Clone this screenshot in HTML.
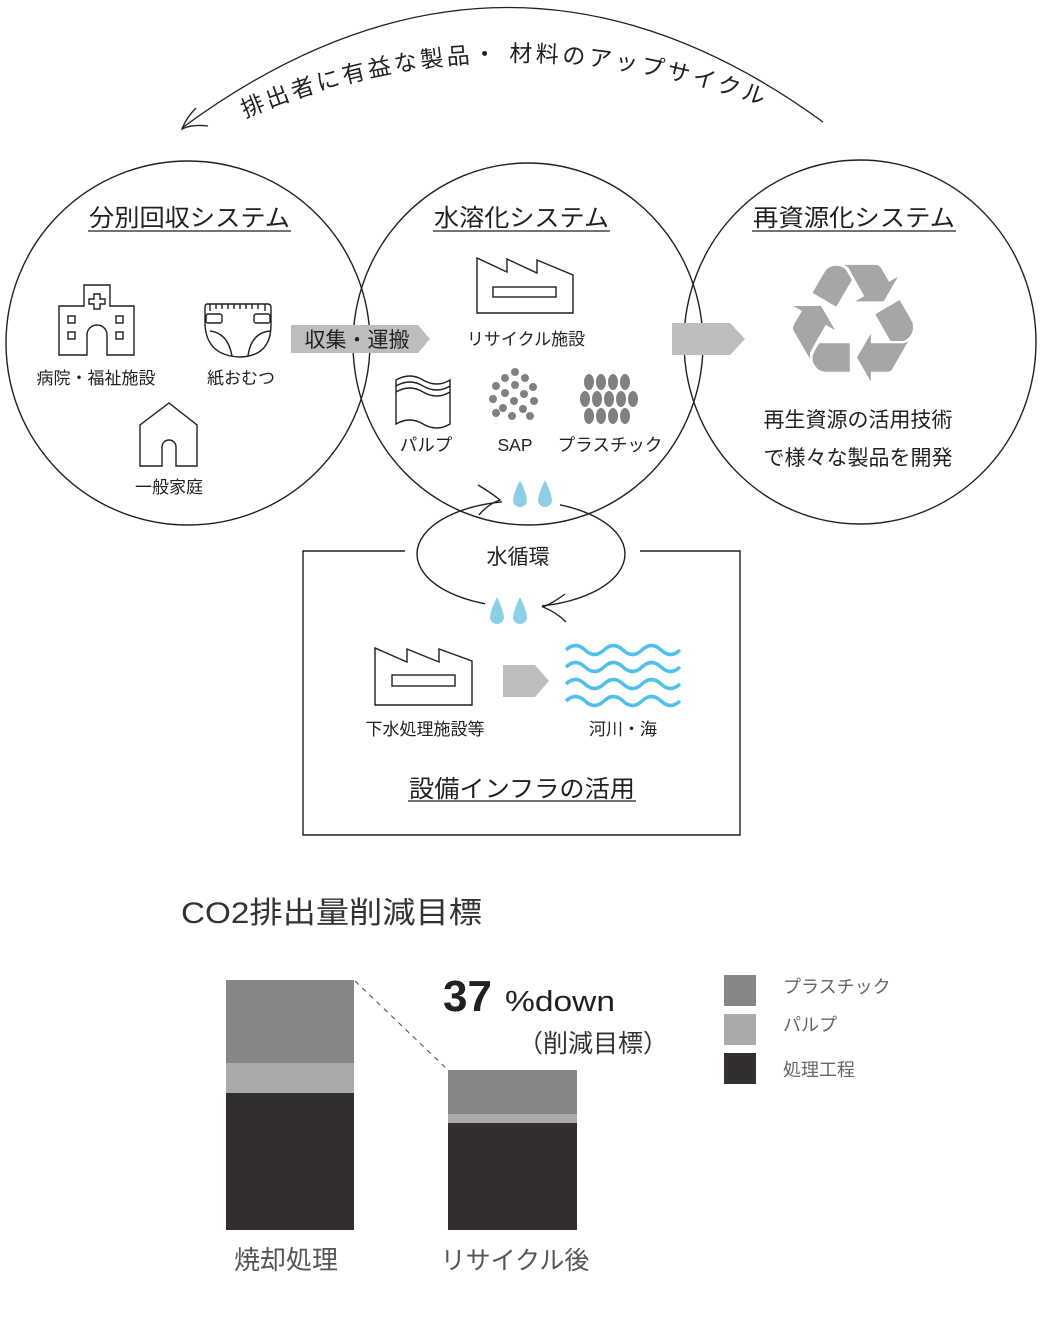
<!DOCTYPE html>
<html><head><meta charset="utf-8"><style>
html,body{margin:0;padding:0;background:#fff;}
svg{display:block;}
text{font-family:"Liberation Sans","Noto Sans CJK JP",sans-serif;fill:#231f1f;}
</style></head><body>
<svg width="1047" height="1318" viewBox="0 0 1047 1318" xmlns="http://www.w3.org/2000/svg">
<defs>
<path id="arcTxt" d="M245 118 Q 505 8 780 112"/>
</defs>
<!-- top arc -->
<path d="M823 122 Q 505 -110 182 128" fill="none" stroke="#231f1f" stroke-width="1.3"/>
<path d="M196 108 Q 186 118 182 129 Q 192 124 208 126" fill="none" stroke="#231f1f" stroke-width="1.3"/>
<text font-size="23"><textPath href="#arcTxt" textLength="530" lengthAdjust="spacing">排出者に有益な製品・ 材料のアップサイクル</textPath></text>

<!-- circles -->
<g fill="none" stroke="#231f1f" stroke-width="1.4">
<ellipse cx="188" cy="343" rx="182" ry="182"/>
<ellipse cx="528" cy="344" rx="175" ry="181"/>
<ellipse cx="860" cy="342" rx="176" ry="182"/>
</g>

<!-- titles -->
<g font-size="24">
<text x="89" y="226" textLength="201" lengthAdjust="spacingAndGlyphs">分別回収システム</text>
<text x="434" y="226" textLength="175" lengthAdjust="spacingAndGlyphs">水溶化システム</text>
<text x="753" y="226" textLength="202" lengthAdjust="spacingAndGlyphs">再資源化システム</text>
</g>
<g stroke="#231f1f" stroke-width="1.3">
<line x1="88" y1="231" x2="291" y2="231"/>
<line x1="433" y1="231" x2="610" y2="231"/>
<line x1="752" y1="231" x2="956" y2="231"/>
</g>

<!-- hospital -->
<g fill="none" stroke="#231f1f" stroke-width="1.4">
<path d="M59 355 V306 H84 V285 H110 V306 H134 V355 H107 V335 a10 10 0 0 0 -20 0 V355 Z"/>
<path d="M94 294 h6 v5 h5 v5 h-5 v5 h-6 v-5 h-5 v-5 h5 Z"/>
<rect x="68" y="316" width="7" height="7"/><rect x="116" y="316" width="7" height="7"/>
<rect x="68" y="332" width="7" height="7"/><rect x="116" y="332" width="7" height="7"/>
<!-- diaper -->
<path d="M207 304 H268 Q271 304 271 308 V325 Q271 356 240 357 Q207 356 205 325 V308 Q205 304 207 304 Z"/>
<path d="M210 304 V311 M216 304 V309 M222 304 V309 M228 304 V309 M234 304 V309 M240 304 V309 M246 304 V309 M252 304 V309 M258 304 V309 M265 304 V311"/>
<rect x="206" y="314" width="16" height="9" rx="2"/><rect x="254" y="314" width="16" height="9" rx="2"/>
<path d="M210 331 Q228 333 232 356 M270 331 Q251 333 248 356"/>
<!-- house -->
<path d="M140 466 V425 L169 403 L197 425 V466 H176 V447 a7 7 0 0 0 -14 0 V466 Z"/>
<!-- factory middle -->
<path d="M477 313 V258 L507 272 V259 L537 273 V260 L573 275 V313 Z"/>
<rect x="493" y="287" width="63" height="10"/>
<!-- factory infra -->
<path d="M375 705 V648 L407 662 V649 L439 662 V649 L472 661 V705 Z"/>
<rect x="392" y="675" width="63" height="11"/>
<!-- pulp -->
<path d="M396 424 V380 Q410 372 423 380 Q437 388 450 380 V424 Q437 432 423 424 Q410 416 396 424 Z"/>
<path d="M396 386 Q410 378 423 386 Q437 394 450 386 M396 392 Q410 384 423 392 Q437 400 450 392"/>
</g>
<text x="96" y="384" font-size="17" text-anchor="middle">病院・福祉施設</text>
<text x="241" y="384" font-size="17" text-anchor="middle">紙おむつ</text>
<text x="169" y="493" font-size="17" text-anchor="middle">一般家庭</text>

<!-- SAP dots -->
<g fill="#808080">
<circle cx="515" cy="372" r="4"/><circle cx="505" cy="378" r="4"/><circle cx="525" cy="378" r="4"/>
<circle cx="496" cy="386" r="4"/><circle cx="515" cy="385" r="4"/><circle cx="533" cy="387" r="4"/>
<circle cx="505" cy="393" r="4"/><circle cx="524" cy="394" r="4"/>
<circle cx="493" cy="399" r="4"/><circle cx="514" cy="401" r="4"/><circle cx="534" cy="401" r="4"/>
<circle cx="503" cy="408" r="4"/><circle cx="523" cy="409" r="4"/>
<circle cx="496" cy="413" r="4"/><circle cx="512" cy="416" r="4"/><circle cx="530" cy="416" r="4"/>
</g>
<!-- plastic -->
<g fill="#808080">
<ellipse cx="589" cy="382" rx="5" ry="8"/><ellipse cx="601" cy="382" rx="5" ry="8"/><ellipse cx="613" cy="382" rx="5" ry="8"/><ellipse cx="625" cy="382" rx="5" ry="8"/>
<ellipse cx="585" cy="399" rx="5" ry="8"/><ellipse cx="597" cy="399" rx="5" ry="8"/><ellipse cx="609" cy="399" rx="5" ry="8"/><ellipse cx="621" cy="399" rx="5" ry="8"/><ellipse cx="633" cy="399" rx="5" ry="8"/>
<ellipse cx="589" cy="416" rx="5" ry="8"/><ellipse cx="601" cy="416" rx="5" ry="8"/><ellipse cx="613" cy="416" rx="5" ry="8"/><ellipse cx="625" cy="416" rx="5" ry="8"/>
</g>
<g font-size="17.5" text-anchor="middle">
<text x="426" y="451">パルプ</text><text x="515" y="451">SAP</text><text x="610" y="451">プラスチック</text>
</g>
<text x="526" y="345" font-size="17" text-anchor="middle">リサイクル施設</text>

<!-- gray arrows -->
<polygon points="291,325 418,325 430,339 418,353 291,353" fill="#bdbdbd"/>
<text x="357" y="347" font-size="21" text-anchor="middle">収集・運搬</text>
<polygon points="672,323 730,323 745,339 730,355 672,355" fill="#bdbdbd"/>
<polygon points="503,665 535,665 549,681 535,697 503,697" fill="#bdbdbd"/>

<!-- recycle -->
<text x="853" y="381" font-size="165" text-anchor="middle" style="fill:#a6a6a6;font-family:'DejaVu Sans',sans-serif">♻</text>
<text x="858" y="427" font-size="21" text-anchor="middle">再生資源の活用技術</text>
<text x="858" y="465" font-size="21" text-anchor="middle">で様々な製品を開発</text>

<!-- infra box -->
<path d="M405 551 H303 V835 H740 V551 H640" fill="none" stroke="#231f1f" stroke-width="1.4"/>
<!-- water cycle -->
<ellipse cx="521" cy="554" rx="104" ry="53" fill="none" stroke="#231f1f" stroke-width="1.4"/>
<rect x="502" y="493" width="58" height="16" fill="#fff"/>
<rect x="485" y="598" width="57" height="16" fill="#fff"/>
<path d="M478 485 Q490 492 500 500 Q488 504 479 515" fill="none" stroke="#231f1f" stroke-width="1.4"/>
<path d="M565 594 Q553 603 543 607 Q556 612 566 622" fill="none" stroke="#231f1f" stroke-width="1.4"/>
<g fill="#8ccfe6">
<path d="M520 480 Q514 492 513 500 a7 7 0 0 0 14 0 Q526 492 520 480 Z"/>
<path d="M545 480 Q539 492 538 500 a7 7 0 0 0 14 0 Q551 492 545 480 Z"/>
<path d="M497 597 Q491 609 490 617 a7 7 0 0 0 14 0 Q503 609 497 597 Z"/>
<path d="M520 597 Q514 609 513 617 a7 7 0 0 0 14 0 Q526 609 520 597 Z"/>
</g>
<text x="518" y="564" font-size="21" text-anchor="middle">水循環</text>
<g fill="none" stroke="#4fc0ec" stroke-width="3.5">
<path d="M566 650 q9.5 -9 19 0 t19 0 t19 0 t19 0 t19 0 t19 0"/>
<path d="M566 667 q9.5 -9 19 0 t19 0 t19 0 t19 0 t19 0 t19 0"/>
<path d="M566 684 q9.5 -9 19 0 t19 0 t19 0 t19 0 t19 0 t19 0"/>
<path d="M566 701 q9.5 -9 19 0 t19 0 t19 0 t19 0 t19 0 t19 0"/>
</g>
<text x="425" y="735" font-size="17" text-anchor="middle">下水処理施設等</text>
<text x="623" y="735" font-size="17" text-anchor="middle">河川・海</text>
<text x="409" y="797" font-size="24" textLength="226" lengthAdjust="spacingAndGlyphs">設備インフラの活用</text>
<line x1="408" y1="801" x2="636" y2="801" stroke="#231f1f" stroke-width="1.3"/>

<!-- chart -->
<text x="181" y="923" font-size="30" textLength="301" lengthAdjust="spacingAndGlyphs" style="fill:#333">CO2排出量削減目標</text>
<rect x="226" y="980" width="128" height="83" fill="#868686"/>
<rect x="226" y="1063" width="128" height="30" fill="#aaaaaa"/>
<rect x="226" y="1093" width="128" height="137" fill="#322e2d"/>
<rect x="448" y="1070" width="129" height="44" fill="#868686"/>
<rect x="448" y="1114" width="129" height="9" fill="#aaaaaa"/>
<rect x="448" y="1123" width="129" height="107" fill="#322e2d"/>
<line x1="355" y1="981" x2="448" y2="1070" stroke="#444" stroke-width="1" stroke-dasharray="5,5"/>
<text x="443" y="1011" font-size="44" font-weight="bold" style="fill:#231f1f">37</text>
<text x="505" y="1011" font-size="29" textLength="110" lengthAdjust="spacingAndGlyphs" style="fill:#231f1f">%down</text>
<text x="593" y="1052" font-size="25" text-anchor="middle" style="fill:#333">（削減目標）</text>
<rect x="724" y="975" width="32" height="31" fill="#868686"/>
<rect x="724" y="1014" width="32" height="31" fill="#aaaaaa"/>
<rect x="724" y="1053" width="32" height="31" fill="#322e2d"/>
<g font-size="18">
<text x="783" y="993" style="fill:#666">プラスチック</text>
<text x="783" y="1031" style="fill:#666">パルプ</text>
<text x="783" y="1076" style="fill:#666">処理工程</text>
</g>
<text x="286" y="1269" font-size="26" text-anchor="middle" style="fill:#555">焼却処理</text>
<text x="515" y="1269" font-size="25" text-anchor="middle" style="fill:#555">リサイクル後</text>
</svg>
</body></html>
